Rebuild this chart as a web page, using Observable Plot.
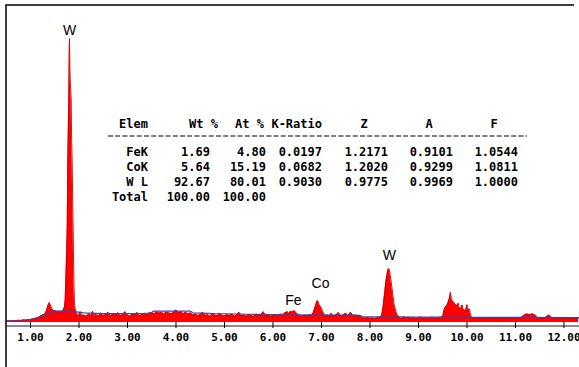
<!DOCTYPE html>
<html><head><meta charset="utf-8">
<script src="https://cdn.jsdelivr.net/npm/d3@7"></script>
<script src="https://cdn.jsdelivr.net/npm/@observablehq/plot@0.6"></script>
<style>html,body{margin:0;padding:0;background:#fff}#chart svg{display:block}</style>
</head><body><div id="chart"></div>
<script>
// EDS spectrum: [energy keV, counts (relative, W M-alpha peak = 1000)]
const spectrum = [
[0.50,4],[0.55,6],[0.60,5],[0.65,7],[0.70,6],[0.75,8],[0.80,7],[0.85,9],[0.90,8],[0.95,10],
[1.00,11],[1.05,12],[1.10,15],[1.15,17],[1.20,22],[1.25,26],[1.30,30],[1.33,42],[1.36,60],[1.39,70],
[1.42,56],[1.45,46],[1.48,42],[1.52,40],[1.56,37],[1.60,38],[1.64,36],[1.67,42],[1.70,55],[1.715,78],
[1.728,150],[1.745,250],[1.757,330],[1.769,560],[1.78,690],[1.79,800],[1.798,930],[1.804,1000],[1.812,900],[1.822,840],
[1.839,790],[1.848,640],[1.860,560],[1.870,420],[1.880,330],[1.893,150],[1.907,70],[1.92,50],[1.95,30],[1.98,24],
[2.00,28],[2.03,38],[2.06,22],[2.10,26],[2.15,22],[2.20,30],[2.25,24],[2.28,40],[2.31,25],[2.35,28],
[2.40,22],[2.45,34],[2.50,24],[2.55,28],[2.60,36],[2.65,23],[2.70,30],[2.75,26],[2.80,34],[2.85,24],
[2.90,28],[2.95,38],[3.00,26],[3.05,22],[3.10,30],[3.15,28],[3.20,35],[3.25,24],[3.30,29],[3.35,33],
[3.40,27],[3.45,31],[3.50,35],[3.55,30],[3.60,38],[3.65,33],[3.70,36],[3.75,30],[3.80,37],[3.85,34],
[3.90,30],[3.95,36],[4.00,44],[4.05,34],[4.10,38],[4.15,31],[4.20,36],[4.25,30],[4.30,34],[4.35,26],
[4.40,30],[4.45,24],[4.50,28],[4.55,36],[4.60,25],[4.65,27],[4.70,22],[4.75,30],[4.80,26],[4.85,24],
[4.90,33],[4.95,25],[5.00,23],[5.05,28],[5.10,24],[5.15,30],[5.20,22],[5.25,26],[5.30,36],[5.35,24],
[5.40,27],[5.45,22],[5.50,28],[5.55,25],[5.60,21],[5.65,30],[5.70,24],[5.75,27],[5.80,38],[5.85,23],
[5.90,26],[5.95,22],[6.00,25],[6.05,28],[6.10,23],[6.15,30],[6.20,26],[6.25,34],[6.30,38],[6.33,31],
[6.36,40],[6.40,36],[6.44,42],[6.48,33],[6.52,28],[6.56,24],[6.60,22],[6.65,26],[6.70,23],[6.75,27],
[6.80,26],[6.83,34],[6.86,50],[6.89,66],[6.91,77],[6.93,74],[6.96,60],[6.99,54],[7.02,40],[7.05,30],
[7.08,24],[7.12,27],[7.16,22],[7.20,32],[7.25,24],[7.30,26],[7.35,35],[7.40,23],[7.45,27],[7.50,33],
[7.55,24],[7.60,36],[7.65,25],[7.70,26],[7.75,24],[7.80,22],[7.85,16],[7.90,15],[7.95,17],[8.00,15],
[8.05,16],[8.10,14],[8.15,17],[8.20,18],[8.24,25],[8.27,55],[8.30,100],[8.33,148],[8.36,178],[8.38,190],
[8.40,186],[8.42,165],[8.44,140],[8.47,100],[8.50,62],[8.53,42],[8.56,26],[8.60,18],[8.65,14],[8.70,20],
[8.75,16],[8.80,18],[8.85,15],[8.90,17],[8.95,14],[9.00,16],[9.05,19],[9.10,15],[9.15,17],[9.20,14],
[9.25,18],[9.30,16],[9.35,15],[9.40,17],[9.45,18],[9.50,20],[9.52,40],[9.55,54],[9.58,58],[9.61,70],
[9.635,84],[9.66,106],[9.68,82],[9.70,76],[9.73,70],[9.76,64],[9.79,58],[9.82,68],[9.84,52],[9.87,48],
[9.90,62],[9.92,48],[9.95,42],[9.98,46],[10.00,63],[10.02,42],[10.05,48],[10.07,30],[10.09,20],[10.12,15],
[10.15,14],[10.20,16],[10.25,13],[10.30,15],[10.35,14],[10.40,16],[10.45,13],[10.50,15],[10.55,14],[10.60,16],
[10.65,13],[10.70,15],[10.75,14],[10.80,16],[10.85,13],[10.90,15],[10.95,14],[11.00,15],[11.05,14],[11.10,16],
[11.15,22],[11.20,28],[11.25,30],[11.30,27],[11.35,31],[11.40,26],[11.45,18],[11.50,15],[11.55,14],[11.60,16],
[11.65,22],[11.70,26],[11.75,17],[11.80,14],[11.85,16],[11.90,15],[11.95,14],[12.00,18],[12.05,15],[12.10,14],
[12.15,17],[12.20,15],[12.25,16],[12.30,15]
];
// fitted background line: [keV, counts]
const background = [
[0.5,5],[0.8,7],[1.0,10],[1.15,15],[1.3,24],[1.4,34],[1.5,40],[1.7,41],[1.9,38],[2.1,34],
[2.5,31],[3.0,31],[3.4,32],[3.5,36],[3.55,40],[4.3,40],[4.35,34],[4.8,31],[5.5,29],[6.0,28],
[6.5,27],[7.0,26],[7.8,25],[7.85,20],[8.5,20],[9.0,19],[9.5,19],[10.0,18],[11.0,18],[12.3,17]
];
const tickValues = [1,2,3,4,5,6,7,8,9,10,11,12];
const peakLabels = ["W","Fe","Co","W"];
const peakEnergy = [1.804, 6.42, 6.98, 8.40];
const peakLabelCount = [1028, 77, 137, 236];

// quantification table
const tableHeader = ["Elem","Wt %","At %","K-Ratio","Z","A","F"];
const tableElems = ["FeK","CoK","W L"];
const wtPct  = ["1.69","5.64","92.67"];
const atPct  = ["4.80","15.19","80.01"];
const kRatio = ["0.0197","0.0682","0.9030"];
const zCorr  = ["1.2171","1.2020","0.9775"];
const aCorr  = ["0.9101","0.9299","0.9969"];
const fCorr  = ["1.0544","1.0811","1.0000"];
const totalRow = ["Total","100.00","100.00"];

const labels = peakLabels.map((t,i)=>({t, e: peakEnergy[i], c: peakLabelCount[i]}));

const chart = Plot.plot({
  width: 579, height: 367,
  marginLeft: 6, marginRight: 0, marginTop: 38, marginBottom: 45,
  style: {background: "#fff", overflow: "visible"},
  x: {domain: [0.505, 12.32], axis: null, label: null},
  y: {domain: [0, 1000], axis: null, label: null},
  marks: [
    Plot.ruleY([0], {dy: 3.5, stroke: "#8c8c8c", strokeWidth: 2}),
    Plot.areaY(spectrum, {x: d=>d[0], y: d=>d[1], fill: "#ff0000"}),
    Plot.lineY(spectrum, {x: d=>d[0], y: d=>d[1], stroke: "#cc0000", strokeWidth: 0.9}),
    Plot.lineY(background, {x: d=>d[0], y: d=>d[1], stroke: "#4a3f9c", strokeWidth: 1.2}),
    Plot.axisX(tickValues, {tickFormat: d3.format(".2f"), tickSize: 6, tickPadding: 5, stroke: "#000", label: null,
      fontSize: 11, fontWeight: "bold", fontFamily: "DejaVu Sans Mono", fill: "#000"}),
    Plot.text(labels, {x: "e", y: "c", text: "t", fontSize: 14, fontFamily: "Liberation Sans, Arial, sans-serif", fill: "#000"})
  ]
});
document.getElementById("chart").appendChild(chart);

const svg = d3.select(chart);
// frame (left and top border)
svg.append("path").attr("d","M6,367V5H574").attr("fill","none").attr("stroke","#000").attr("stroke-width",1.5);

// table
const tg = svg.append("g").attr("font-family","DejaVu Sans Mono, monospace").attr("font-weight","bold")
  .attr("font-size",12).attr("fill","#000");
const headerX = [148,218,264,322,364,429,494];
const headerAnchor = ["end","end","end","end","middle","middle","middle"];
tableHeader.forEach((h,i)=>{
  tg.append("text").attr("x",headerX[i]).attr("y",128).attr("text-anchor",headerAnchor[i]).text(h);
});
tg.append("line").attr("x1",108).attr("x2",527).attr("y1",136).attr("y2",136)
  .attr("stroke","#555").attr("stroke-width",1.3).attr("stroke-dasharray","5,2.2");
const colX = [148,210,266,322,388,453,518];
const rowY = [156,171,186];
const cols = [tableElems, wtPct, atPct, kRatio, zCorr, aCorr, fCorr];
rowY.forEach((y,r)=>{
  cols.forEach((col,c)=>{
    tg.append("text").attr("x",colX[c]).attr("y",y).attr("text-anchor","end").text(col[r]);
  });
});
totalRow.forEach((t,c)=>{
  tg.append("text").attr("x",colX[c]).attr("y",201).attr("text-anchor","end").text(t);
});
</script></body></html>
